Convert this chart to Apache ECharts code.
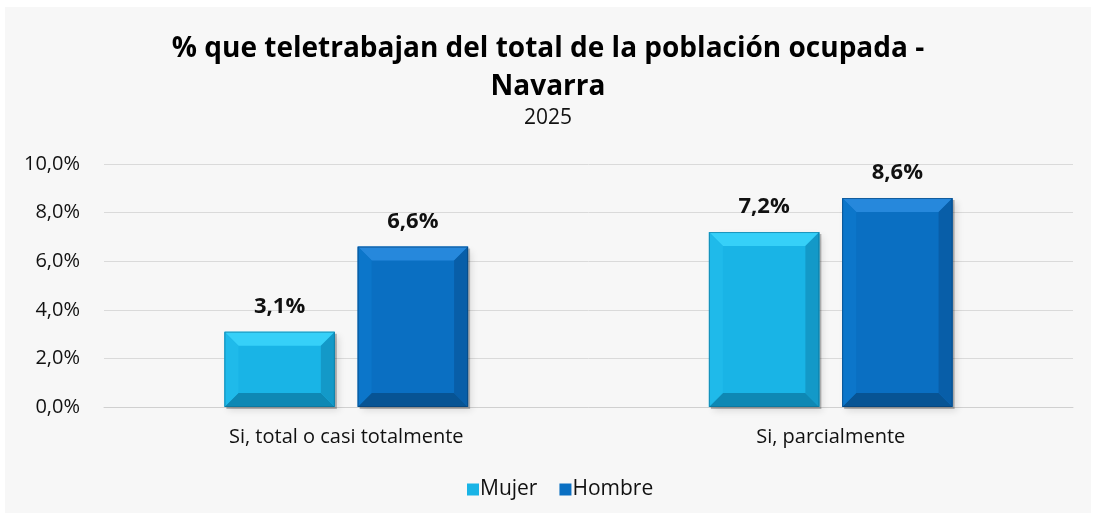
<!DOCTYPE html>
<html>
<head>
<meta charset="utf-8">
<script src="https://cdn.jsdelivr.net/npm/echarts@6/dist/echarts.min.js"></script>
<style>
  html, body { margin: 0; padding: 0; background: #ffffff; }
  #chart { position: absolute; left: 5px; top: 7px; width: 1086px; height: 506px; background: #f7f7f7; }
</style>
</head>
<body>
<div id="chart"></div>
<script>
// Teleworking share of employed population, Navarra 2025
const categories = ['Si, total o casi totalmente', 'Si, parcialmente'];
const mujer = [3.1, 7.2];
const hombre = [6.6, 8.6];
const yTicks = { min: 0, max: 10, interval: 2 };

const palette = {
  Mujer: { face: '#19b4e6', top: '#36d0f8', left: '#1fbaea', right: '#1399c8', bottom: '#0e88b4', edge: '#0b6f94' },
  Hombre: { face: '#0a6fc2', top: '#2688dc', left: '#0c76ca', right: '#085ea8', bottom: '#075494', edge: '#063f73' }
};

const fmt = v => v.toFixed(1).replace('.', ',') + '%';

function bevelRenderer(name, offsetIndex) {
  const c = palette[name];
  return function (params, api) {
    const cat = api.value(0);
    const val = api.value(1);
    const base = api.coord([cat, 0]);
    const top = api.coord([cat, val]);
    const band = api.size([1, 0])[0];
    const w = band * 0.228;
    const gap = band * 0.047;
    const cx = base[0] + (offsetIndex === 0 ? -(gap / 2 + w / 2) : (gap / 2 + w / 2));
    const x0 = cx - w / 2, x1 = cx + w / 2;
    const y0 = top[1], y1 = base[1];
    const b = Math.min(14, (y1 - y0) / 2);
    const poly = (pts, fill) => ({ type: 'polygon', shape: { points: pts }, style: { fill: fill } });
    return {
      type: 'group',
      children: [
        { type: 'rect', shape: { x: x0 + 2, y: y0 + 2, width: w, height: y1 - y0 },
          style: { fill: 'rgba(0,0,0,0.25)', shadowBlur: 7, shadowOffsetX: 2, shadowOffsetY: 2, shadowColor: 'rgba(0,0,0,0.45)' } },
        { type: 'rect', shape: { x: x0, y: y0, width: w, height: y1 - y0 }, style: { fill: c.face } },
        poly([[x0, y0], [x1, y0], [x1 - b, y0 + b], [x0 + b, y0 + b]], c.top),
        poly([[x0, y1], [x1, y1], [x1 - b, y1 - b], [x0 + b, y1 - b]], c.bottom),
        poly([[x0, y0], [x0 + b, y0 + b], [x0 + b, y1 - b], [x0, y1]], c.left),
        poly([[x1, y0], [x1 - b, y0 + b], [x1 - b, y1 - b], [x1, y1]], c.right),
        { type: 'rect', shape: { x: x0 + 0.5, y: y0 + 0.5, width: w - 1, height: y1 - y0 - 1 },
          style: { fill: null, stroke: c.edge, lineWidth: 1, opacity: 0.6 } },
        { type: 'text', x: cx, y: y0 - 14,
          style: { text: fmt(val), fill: '#111', font: 'bold 22px "Open Sans"', align: 'center', verticalAlign: 'bottom' } }
      ]
    };
  };
}

const chart = echarts.init(document.getElementById('chart'), null, { renderer: 'canvas' });
chart.setOption({
  backgroundColor: '#f7f7f7',
  animation: false,
  title: {
    text: '% que teletrabajan del total de la población ocupada -\nNavarra',
    subtext: '2025',
    left: 'center',
    top: 18,
    itemGap: 2,
    textStyle: { fontFamily: 'Open Sans', fontWeight: 'bold', fontSize: 28, color: '#000', lineHeight: 38, letterSpacing: -0.3 },
    subtextStyle: { fontFamily: 'Open Sans', fontSize: 21, color: '#111' }
  },
  legend: {
    bottom: 8,
    left: 457,
    itemWidth: 12,
    itemHeight: 12,
    itemGap: 22,
    icon: 'rect',
    textStyle: { fontFamily: 'Open Sans', fontSize: 21, color: '#111', padding: [0, 0, 0, -4] },
    data: [
      { name: 'Mujer', itemStyle: { color: palette.Mujer.face } },
      { name: 'Hombre', itemStyle: { color: palette.Hombre.face } }
    ]
  },
  grid: { left: 99, right: 18, top: 157, bottom: 106 },
  xAxis: {
    type: 'category',
    data: categories,
    axisLine: { show: true, lineStyle: { color: '#d0d0d0', width: 1 } },
    axisTick: { show: false },
    axisLabel: { fontFamily: 'Open Sans', fontSize: 20, color: '#111', margin: 20 }
  },
  yAxis: {
    type: 'value',
    min: yTicks.min,
    max: yTicks.max,
    interval: yTicks.interval,
    axisLine: { show: false },
    axisTick: { show: false },
    splitLine: { lineStyle: { color: '#dadada', width: 1 } },
    axisLabel: { fontFamily: 'Open Sans', fontSize: 20, color: '#111', margin: 24,
      formatter: v => v.toFixed(1).replace('.', ',') + '%' }
  },
  series: [
    { name: 'Mujer', type: 'custom', renderItem: bevelRenderer('Mujer', 0),
      itemStyle: { color: palette.Mujer.face },
      data: mujer.map((v, i) => [i, v]), encode: { x: 0, y: 1 } },
    { name: 'Hombre', type: 'custom', renderItem: bevelRenderer('Hombre', 1),
      itemStyle: { color: palette.Hombre.face },
      data: hombre.map((v, i) => [i, v]), encode: { x: 0, y: 1 } }
  ]
});
</script>
</body>
</html>
